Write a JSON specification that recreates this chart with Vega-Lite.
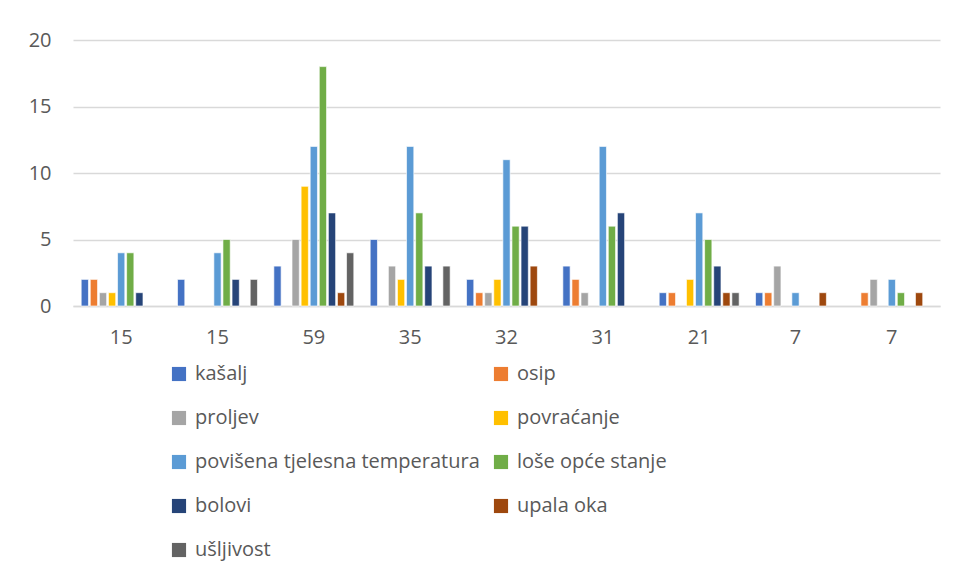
{
  "$schema": "https://vega.github.io/schema/vega-lite/v6.json",
  "width": 867,
  "height": 266,
  "autosize": {"type": "none"},
  "padding": {"left": 73, "top": 40, "right": 16, "bottom": 270},
  "background": "white",
  "config": {
    "view": {"stroke": null},
    "font": "Open Sans"
  },
  "data": {
    "values": [
      {"group": "15#1", "symptom": "kašalj", "count": 2},
      {"group": "15#1", "symptom": "osip", "count": 2},
      {"group": "15#1", "symptom": "proljev", "count": 1},
      {"group": "15#1", "symptom": "povraćanje", "count": 1},
      {"group": "15#1", "symptom": "povišena tjelesna temperatura", "count": 4},
      {"group": "15#1", "symptom": "loše opće stanje", "count": 4},
      {"group": "15#1", "symptom": "bolovi", "count": 1},
      {"group": "15#2", "symptom": "kašalj", "count": 2},
      {"group": "15#2", "symptom": "povišena tjelesna temperatura", "count": 4},
      {"group": "15#2", "symptom": "loše opće stanje", "count": 5},
      {"group": "15#2", "symptom": "bolovi", "count": 2},
      {"group": "15#2", "symptom": "ušljivost", "count": 2},
      {"group": "59#3", "symptom": "kašalj", "count": 3},
      {"group": "59#3", "symptom": "proljev", "count": 5},
      {"group": "59#3", "symptom": "povraćanje", "count": 9},
      {"group": "59#3", "symptom": "povišena tjelesna temperatura", "count": 12},
      {"group": "59#3", "symptom": "loše opće stanje", "count": 18},
      {"group": "59#3", "symptom": "bolovi", "count": 7},
      {"group": "59#3", "symptom": "upala oka", "count": 1},
      {"group": "59#3", "symptom": "ušljivost", "count": 4},
      {"group": "35#4", "symptom": "kašalj", "count": 5},
      {"group": "35#4", "symptom": "proljev", "count": 3},
      {"group": "35#4", "symptom": "povraćanje", "count": 2},
      {"group": "35#4", "symptom": "povišena tjelesna temperatura", "count": 12},
      {"group": "35#4", "symptom": "loše opće stanje", "count": 7},
      {"group": "35#4", "symptom": "bolovi", "count": 3},
      {"group": "35#4", "symptom": "ušljivost", "count": 3},
      {"group": "32#5", "symptom": "kašalj", "count": 2},
      {"group": "32#5", "symptom": "osip", "count": 1},
      {"group": "32#5", "symptom": "proljev", "count": 1},
      {"group": "32#5", "symptom": "povraćanje", "count": 2},
      {"group": "32#5", "symptom": "povišena tjelesna temperatura", "count": 11},
      {"group": "32#5", "symptom": "loše opće stanje", "count": 6},
      {"group": "32#5", "symptom": "bolovi", "count": 6},
      {"group": "32#5", "symptom": "upala oka", "count": 3},
      {"group": "31#6", "symptom": "kašalj", "count": 3},
      {"group": "31#6", "symptom": "osip", "count": 2},
      {"group": "31#6", "symptom": "proljev", "count": 1},
      {"group": "31#6", "symptom": "povišena tjelesna temperatura", "count": 12},
      {"group": "31#6", "symptom": "loše opće stanje", "count": 6},
      {"group": "31#6", "symptom": "bolovi", "count": 7},
      {"group": "21#7", "symptom": "kašalj", "count": 1},
      {"group": "21#7", "symptom": "osip", "count": 1},
      {"group": "21#7", "symptom": "povraćanje", "count": 2},
      {"group": "21#7", "symptom": "povišena tjelesna temperatura", "count": 7},
      {"group": "21#7", "symptom": "loše opće stanje", "count": 5},
      {"group": "21#7", "symptom": "bolovi", "count": 3},
      {"group": "21#7", "symptom": "upala oka", "count": 1},
      {"group": "21#7", "symptom": "ušljivost", "count": 1},
      {"group": "7#8", "symptom": "kašalj", "count": 1},
      {"group": "7#8", "symptom": "osip", "count": 1},
      {"group": "7#8", "symptom": "proljev", "count": 3},
      {"group": "7#8", "symptom": "povišena tjelesna temperatura", "count": 1},
      {"group": "7#8", "symptom": "upala oka", "count": 1},
      {"group": "7#9", "symptom": "osip", "count": 1},
      {"group": "7#9", "symptom": "proljev", "count": 2},
      {"group": "7#9", "symptom": "povišena tjelesna temperatura", "count": 2},
      {"group": "7#9", "symptom": "loše opće stanje", "count": 1},
      {"group": "7#9", "symptom": "upala oka", "count": 1}
    ]
  },
  "mark": {"type": "bar", "stroke": "white", "strokeWidth": 0.8, "strokeOpacity": 0.8},
  "encoding": {
    "x": {
      "field": "group",
      "type": "nominal",
      "sort": null,
      "scale": {"domain": ["15#1", "15#2", "59#3", "35#4", "32#5", "31#6", "21#7", "7#8", "7#9"], "paddingInner": 0.17, "paddingOuter": 0.085},
      "axis": {
        "title": null,
        "labelExpr": "split(datum.value, '#')[0]",
        "labelAngle": 0,
        "labelFontSize": 20,
        "labelColor": "#595959",
        "labelPadding": 21,
        "ticks": false,
        "domain": true,
        "domainColor": "#D9D9D9",
        "domainWidth": 1.5,
        "grid": false
      }
    },
    "xOffset": {
      "field": "symptom",
      "type": "nominal",
      "scale": {"domain": ["kašalj", "osip", "proljev", "povraćanje", "povišena tjelesna temperatura", "loše opće stanje", "bolovi", "upala oka", "ušljivost"], "paddingInner": 0.2, "paddingOuter": 0}
    },
    "y": {
      "field": "count",
      "type": "quantitative",
      "scale": {"domain": [0, 20]},
      "axis": {
        "title": null,
        "values": [0, 5, 10, 15, 20],
        "labelFontSize": 20,
        "labelColor": "#595959",
        "labelPadding": 22,
        "ticks": false,
        "domain": false,
        "gridColor": "#D9D9D9",
        "gridWidth": 1.5
      }
    },
    "color": {
      "field": "symptom",
      "type": "nominal",
      "scale": {
        "domain": ["kašalj", "proljev", "povišena tjelesna temperatura", "bolovi", "ušljivost", "osip", "povraćanje", "loše opće stanje", "upala oka"],
        "range": ["#4472C4", "#A5A5A5", "#5B9BD5", "#264478", "#636363", "#ED7D31", "#FFC000", "#70AD47", "#9E480E"]
      },
      "legend": {
        "title": null,
        "orient": "none",
        "legendX": 96,
        "legendY": 324,
        "columns": 2,
        "columnPadding": 11,
        "rowPadding": 24,
        "symbolType": "square",
        "symbolSize": 200,
        "symbolStrokeWidth": 0,
        "labelFontSize": 20,
        "labelColor": "#595959",
        "labelOffset": 6,
        "labelLimit": 400
      }
    }
  }
}
